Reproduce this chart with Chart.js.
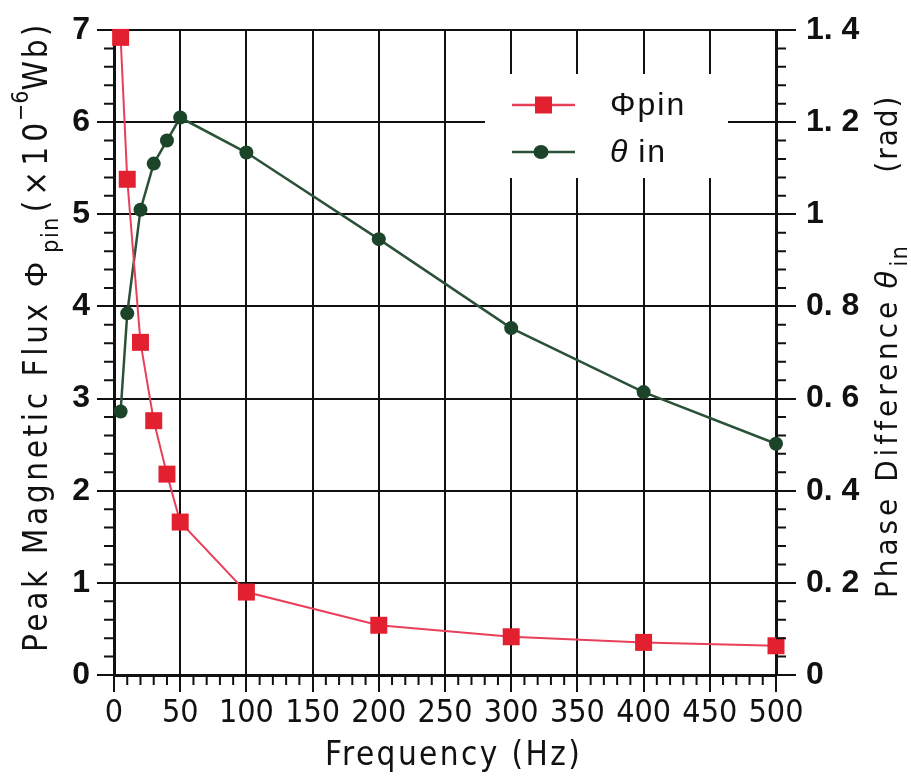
<!DOCTYPE html>
<html>
<head>
<meta charset="utf-8">
<script src="https://cdn.jsdelivr.net/npm/chart.js@4.4.1/dist/chart.umd.min.js"></script>
<style>
  html, body { margin: 0; padding: 0; background: #ffffff; }
  #wrap { width: 911px; height: 778px; position: relative; }
</style>
</head>
<body>
<div id="wrap"><canvas id="c" width="911" height="778"></canvas></div>
<script>
// ---- data ----
const frequencyHz      = [5, 10, 20, 30, 40, 50, 100, 200, 300, 400, 500];
const peakFluxPhiPin   = [6.92, 5.38, 3.61, 2.76, 2.18, 1.66, 0.90, 0.54, 0.415, 0.354, 0.317]; // ×10^-6 Wb
const phaseDiffTheta   = [0.572, 0.785, 1.01, 1.11, 1.16, 1.21, 1.134, 0.946, 0.753, 0.614, 0.502]; // rad
const seriesLabels     = ['Φpin', 'θ in'];
const xTickValues      = [0, 50, 100, 150, 200, 250, 300, 350, 400, 450, 500];
const leftTickValues   = [0, 1, 2, 3, 4, 5, 6, 7];
const rightTickValues  = [0, 0.2, 0.4, 0.6, 0.8, 1, 1.2, 1.4];

const NARROW = '"Liberation Sans Narrow", "DejaVu Sans Condensed", "Roboto Condensed", sans-serif';
const SANS = '"Liberation Sans", Arial, sans-serif';
const RED_LINE = '#e8405a', RED_PT = '#e3202f';
const GREEN_LINE = '#2b5238', GREEN_PT = '#1c4428';

const toXY = (ys) => frequencyHz.map((f, i) => ({ x: f, y: ys[i] }));

function fmtRight(v) {
  if (Math.abs(v) < 1e-9) return '0';
  if (Math.abs(v - 1) < 1e-9) return '1';
  return v.toFixed(1).replace('.', '. ');
}

// minor ticks drawn via the library's scales
const minorTicks = {
  id: 'minorTicks',
  afterDraw(chart) {
    const ctx = chart.ctx;
    const xs = chart.scales.x, yl = chart.scales.y, yr = chart.scales.y1;
    const ca = chart.chartArea;
    ctx.save();
    ctx.strokeStyle = '#111';
    ctx.lineWidth = 2;
    ctx.beginPath();
    for (let v = 0; v <= 500; v += 10) {
      if (v % 50 === 0) continue;
      const px = xs.getPixelForValue(v);
      ctx.moveTo(px, ca.bottom); ctx.lineTo(px, ca.bottom + 10);
    }
    for (let k = 0; k <= 35; k++) {
      if (k % 5 === 0) continue;
      const py = yl.getPixelForValue(k * 0.2);
      ctx.moveTo(ca.left, py); ctx.lineTo(ca.left - 10, py);
      const pr = yr.getPixelForValue(k * 0.04);
      ctx.moveTo(ca.right, pr); ctx.lineTo(ca.right + 10, pr);
    }
    ctx.stroke();
    ctx.restore();
  }
};

// legend drawn from dataset properties
const boxLegend = {
  id: 'boxLegend',
  afterDatasetsDraw(chart) {
    const ctx = chart.ctx;
    ctx.save();
    ctx.fillStyle = '#ffffff';
    ctx.fillRect(485, 74, 243, 104);
    const rows = [105, 152];
    chart.data.datasets.forEach((ds, i) => {
      const y = rows[i];
      ctx.strokeStyle = ds.borderColor;
      ctx.lineWidth = 2.5;
      ctx.beginPath(); ctx.moveTo(512, y); ctx.lineTo(575, y); ctx.stroke();
      ctx.fillStyle = ds.pointBackgroundColor;
      if (ds.pointStyle === 'rect') {
        ctx.fillRect(535, y - 8.5, 17, 17);
      } else {
        ctx.beginPath(); ctx.ellipse(541, y, 7.5, 7, 0, 0, Math.PI * 2); ctx.fill();
      }
      ctx.fillStyle = '#111';
      ctx.textBaseline = 'middle';
      if (i === 0) {
        ctx.font = '32px ' + SANS;
        ctx.letterSpacing = '2px';
        ctx.fillText(ds.label, 610, y + 1);
      } else {
        ctx.font = 'italic 32px ' + SANS;
        ctx.letterSpacing = '0px';
        const t = ds.label.split(' ');
        ctx.fillText(t[0], 610, y + 1);
        const w = ctx.measureText(t[0]).width;
        ctx.font = '32px ' + SANS;
        ctx.letterSpacing = '2px';
        ctx.fillText(' ' + t[1], 610 + w, y + 1);
      }
      ctx.letterSpacing = '0px';
    });
    ctx.restore();
  }
};

function drawRich(ctx, segs, x, y, rot) {
  ctx.save();
  ctx.translate(x, y);
  ctx.rotate(rot);
  ctx.fillStyle = '#111';
  ctx.textBaseline = 'alphabetic';
  let cx = 0;
  for (const s of segs) {
    ctx.font = s.font;
    ctx.letterSpacing = s.ls || '0px';
    cx += (s.dx || 0);
    ctx.fillText(s.t, cx, s.dy || 0);
    cx += ctx.measureText(s.t).width;
  }
  ctx.restore();
}

const axisTitles = {
  id: 'axisTitles',
  afterDraw(chart) {
    const ctx = chart.ctx;
    const main = '33px ' + NARROW;
    const small = '23px ' + NARROW;
    // x title
    drawRich(ctx, [{ t: 'Frequency (Hz)', font: main, ls: '2.4px' }], 325, 765, 0);
    // left title
    drawRich(ctx, [
      { t: 'Peak Magnetic Flux ', font: main, ls: '3.6px' },
      { t: 'Φ', font: '32px ' + SANS },
      { t: 'pin', font: small, ls: '1.5px', dy: 11, dx: 9 },
      { t: '(×10', font: main, ls: '5px', dx: 4 },
      { t: '−6', font: small, ls: '0px', dy: -19, dx: -3 },
      { t: 'Wb)', font: main, ls: '3px' }
    ], 47, 652, -Math.PI / 2);
    // right title
    drawRich(ctx, [
      { t: 'Phase Difference ', font: '31px ' + NARROW, ls: '4px' },
      { t: 'θ', font: 'italic 32px ' + SANS, dx: -4 },
      { t: 'in', font: small, ls: '1.5px', dy: 10, dx: 5 },
      { t: '(rad)', font: '31px ' + NARROW, ls: '2px', dx: 72 }
    ], 897, 598, -Math.PI / 2);
  }
};

new Chart(document.getElementById('c'), {
  type: 'line',
  data: {
    datasets: [
      {
        label: seriesLabels[0],
        data: toXY(peakFluxPhiPin),
        yAxisID: 'y',
        borderColor: RED_LINE,
        backgroundColor: RED_PT,
        pointBackgroundColor: RED_PT,
        pointBorderColor: RED_PT,
        pointStyle: 'rect',
        pointRadius: 12,
        pointBorderWidth: 0,
        borderWidth: 2,
        tension: 0,
        clip: false
      },
      {
        label: seriesLabels[1],
        data: toXY(phaseDiffTheta),
        yAxisID: 'y1',
        borderColor: GREEN_LINE,
        backgroundColor: GREEN_PT,
        pointBackgroundColor: GREEN_PT,
        pointBorderColor: GREEN_PT,
        pointStyle: 'circle',
        pointRadius: 7,
        pointBorderWidth: 0,
        borderWidth: 2.5,
        tension: 0,
        clip: false
      }
    ]
  },
  options: {
    responsive: false,
    animation: false,
    devicePixelRatio: 1,
    layout: { padding: { top: 30, left: 0, right: 0, bottom: 0 } },
    plugins: { legend: { display: false }, title: { display: false }, tooltip: { enabled: false } },
    scales: {
      x: {
        type: 'linear', min: 0, max: 500,
        afterBuildTicks: (s) => { s.ticks = xTickValues.map(v => ({ value: v })); },
        afterFit: (s) => { s.height = 103; },
        grid: { color: '#111', lineWidth: 2, tickLength: 17, drawTicks: true },
        border: { color: '#111', width: 3 },
        ticks: { color: '#111', font: { family: NARROW, size: 32 }, padding: 2, maxRotation: 0, autoSkip: false }
      },
      y: {
        type: 'linear', position: 'left', min: 0, max: 7,
        afterBuildTicks: (s) => { s.ticks = leftTickValues.map(v => ({ value: v })); },
        afterFit: (s) => { s.width = 114; },
        grid: { color: '#111', lineWidth: 2, tickLength: 17, drawTicks: true },
        border: { color: '#111', width: 3 },
        ticks: { color: '#111', font: { family: SANS, size: 32, weight: 'bold' }, padding: 7 }
      },
      y1: {
        type: 'linear', position: 'right', min: 0, max: 1.4,
        afterBuildTicks: (s) => { s.ticks = rightTickValues.map(v => ({ value: v })); },
        afterFit: (s) => { s.width = 135; },
        grid: { color: '#111', lineWidth: 2, tickLength: 20, drawTicks: true, drawOnChartArea: false },
        border: { color: '#111', width: 3 },
        ticks: { color: '#111', font: { family: SANS, size: 32, weight: 'bold' }, padding: 10, callback: fmtRight }
      }
    }
  },
  plugins: [minorTicks, boxLegend, axisTitles]
});
</script>
</body>
</html>
